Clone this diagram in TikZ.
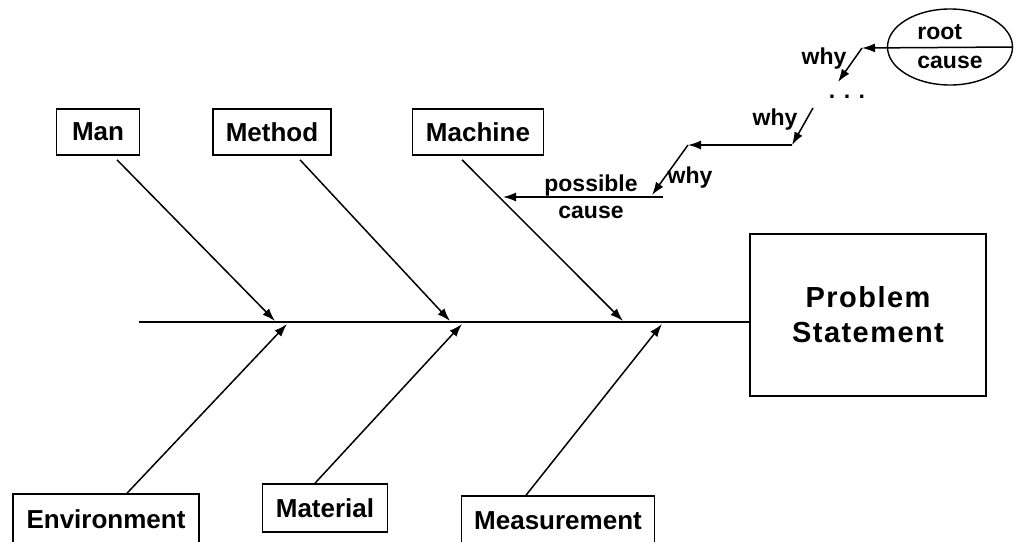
\documentclass[tikz,border=0pt]{standalone}
\usepackage{fontspec}
\setmainfont{Liberation Sans}
\newfontfamily\spacedfont[LetterSpace=5]{Liberation Sans}
\usetikzlibrary{shapes, arrows.meta, positioning}

\begin{document}
\begin{tikzpicture}[x=1pt, y=-1pt,
                    >={Latex[length=13pt, width=9pt]},
                    box/.style={
			draw,
			line width=1.6pt,
			text centered,
			inner sep=0pt,
			minimum height=46pt,
			font=\fontsize{26}{28}\selectfont\bfseries,
			anchor=center,
		}, bone/.style={
			->,
			line width=1.5pt,
		}, whylabel/.style={
			inner sep=0pt,
			font=\fontsize{23}{27}\selectfont\bfseries,
		}, ]
\useasboundingbox (0,0) rectangle (1016,541);

% ------ Causes ------- %
\draw
(98,132) node[box, minimum width=83pt](man){Man}
(272,132) node[box, minimum width=118pt](method){Method}
(478,132) node[box, minimum width=131pt](machine){Machine}
(106,519) node[box, minimum width=186pt, minimum height=50pt](environment){Environment}
(325,508) node[box, minimum width=125pt, minimum height=48pt](material){Material}
(558,521) node[box, minimum width=193pt, minimum height=50pt](measurement){Measurement}
;

% ------ Head ------- %
\draw (868,315) node[box, minimum width=236pt, minimum height=162pt, align=center,
      font=\fontsize{29}{35}\selectfont\spacedfont\bfseries](problem){Problem \\ Statement};

% -------- Spine --------- %
\coordinate (spine_start) at (139,322);
\draw [line width=2pt] (spine_start) -- (spine_start -| problem.west);

\coordinate (tip_man) at (275,321);
\coordinate (tip_method) at (450,321);
\coordinate (tip_machine) at (623,321);
\coordinate (tip_environment) at (287,324);
\coordinate (tip_material) at (462,324);
\coordinate (tip_measurement) at (662,324);

\draw [bone] ([xshift=19pt, yshift=-4pt]man.south) -- (tip_man);
\draw [bone] ([xshift=28pt, yshift=-4pt]method.south) -- (tip_method);
\draw [bone] ([xshift=-16pt, yshift=-4pt]machine.south) -- (tip_machine);
\draw [bone] ([xshift=21pt]environment.north) -- (tip_environment);
\draw [bone] ([xshift=-10pt]material.north) -- (tip_material);
\draw [bone] ([xshift=-32pt]measurement.north) -- (tip_measurement);

% -------- Why chain --------- %
\draw (950,47) node[ellipse, draw, line width=1.4pt, minimum width=125pt, minimum height=76pt,
      inner sep=0pt, align=left, font=\fontsize{23}{29}\selectfont\bfseries](root_cause){root \\ cause};

\coordinate (w1) at (862,48);
\coordinate (w2) at (838,82);
\coordinate (w3) at (813,108);
\coordinate (w4) at (792,145);
\coordinate (w5) at (688,145);
\coordinate (w6) at (652,195);
\coordinate (w7) at (663,197);
\coordinate (on_machine) at (503,197);

\draw [bone] (root_cause.east) -- (w1);
\draw [bone] (w1) -- (w2);
\draw (847,97) node[whylabel](more_dots){. . .};
\draw [bone] (w3) -- (w4);
\draw [bone] (w4) -- (w5);
\draw [bone] (w5) -- (w6);
\draw [bone] (w7) -- node[whylabel, align=center, pos=0.45](possible_cause){possible \\ cause} (on_machine);

\draw
(824,59) node[whylabel](why_one){why}
(775,120) node[whylabel](why_two){why}
(690,178) node[whylabel](why_three){why}
;

\end{tikzpicture}
\end{document}
